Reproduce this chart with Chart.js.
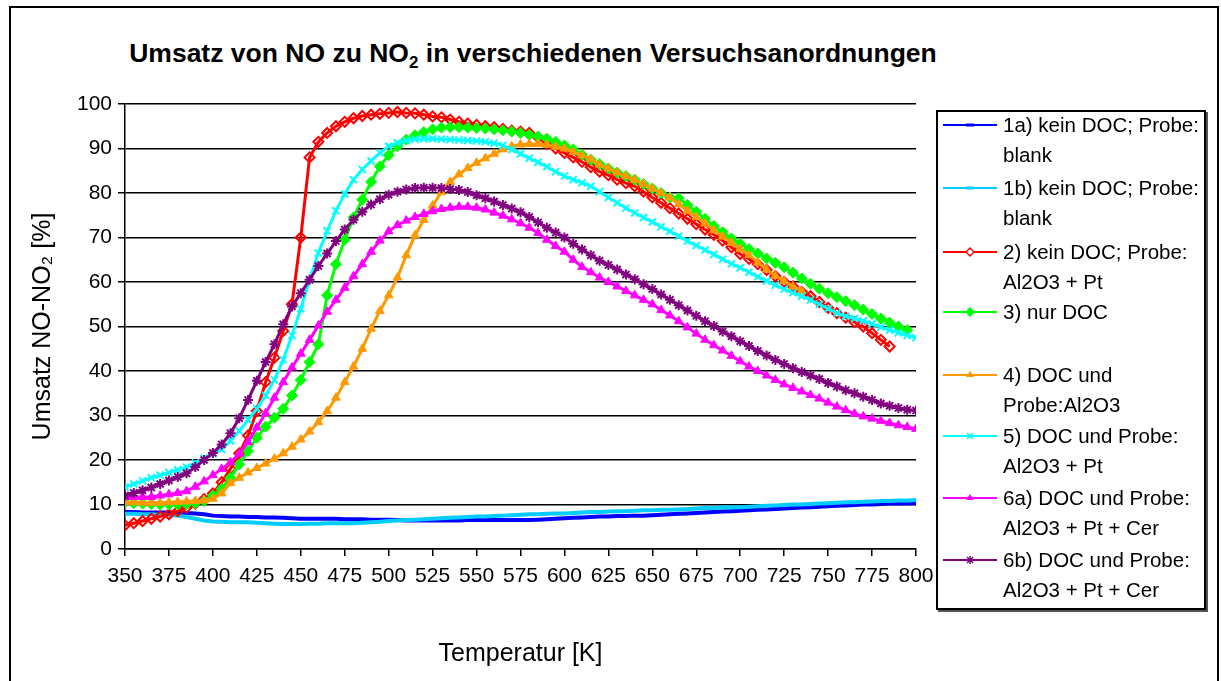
<!DOCTYPE html>
<html>
<head>
<meta charset="utf-8">
<script src="https://cdn.jsdelivr.net/npm/chart.js@4/dist/chart.umd.min.js"></script>
<style>
body{margin:0;background:#fff;font-family:'Liberation Sans',Arial,sans-serif;}
#frame{position:absolute;left:9px;top:6px;width:1206px;height:700px;border:2px solid #000;border-bottom:none;}
#title{position:absolute;left:0;width:1066px;top:38px;text-align:center;font-weight:bold;font-size:26.5px;color:#000;}
#title sub{font-size:17px;}
#chart{position:absolute;left:0;top:0;}
#legend{position:absolute;left:936px;top:110px;width:266px;height:496px;border:2px solid #000;box-shadow:2px 2px 0 #555;}
.item{position:absolute;left:943px;font-size:20.5px;line-height:30px;color:#000;}
.item svg{position:absolute;left:0;top:0;}
.item div{margin-left:60px;white-space:nowrap;}
</style>
</head>
<body>
<div id="frame"></div>
<div id="title">Umsatz von NO zu NO<sub>2</sub> in verschiedenen Versuchsanordnungen</div>
<canvas id="chart" width="1221" height="681"></canvas>
<div id="legend"></div>
<div id="items"></div>
<script>
// Temperatur [K]
var temps=[350,355,360,365,370,375,380,385,390,395,400,405,410,415,420,425,430,435,440,445,
450,455,460,465,470,475,480,485,490,495,500,505,510,515,520,525,530,535,540,545,
550,555,560,565,570,575,580,585,590,595,600,605,610,615,620,625,630,635,640,645,
650,655,660,665,670,675,680,685,690,695,700,705,710,715,720,725,730,735,740,745,
750,755,760,765,770,775,780,785,790,795,800];

// 1a) kein DOC; Probe: blank
var blankA=[8.3,8.3,8.2,8.2,8.2,8.2,8.1,8.1,8.0,7.8,7.5,7.4,7.3,7.3,7.2,7.2,7.1,7.1,7.0,6.9,
6.8,6.8,6.8,6.8,6.8,6.7,6.7,6.7,6.6,6.6,6.6,6.5,6.4,6.4,6.4,6.4,6.4,6.4,6.4,6.5,
6.5,6.5,6.5,6.5,6.5,6.5,6.5,6.6,6.7,6.8,6.9,7.0,7.1,7.2,7.3,7.3,7.4,7.4,7.5,7.5,
7.6,7.7,7.8,7.9,8.0,8.1,8.2,8.3,8.4,8.5,8.6,8.7,8.8,8.9,9.0,9.1,9.2,9.3,9.4,9.5,
9.6,9.7,9.8,9.9,10.0,10.0,10.1,10.2,10.2,10.3,10.3];
// 1b) kein DOC; Probe: blank
var blankB=[7.9,7.9,7.8,7.8,7.7,7.6,7.5,7.2,6.8,6.4,6.2,6.1,6.0,6.0,6.0,5.9,5.8,5.7,5.6,5.6,
5.6,5.7,5.7,5.8,5.8,5.8,5.8,5.9,6.0,6.1,6.3,6.4,6.5,6.6,6.7,6.8,6.9,7.0,7.1,7.2,
7.3,7.3,7.4,7.5,7.6,7.7,7.8,7.8,7.9,8.0,8.0,8.1,8.2,8.3,8.3,8.4,8.5,8.5,8.6,8.7,
8.7,8.8,8.8,8.9,9.0,9.1,9.2,9.2,9.3,9.4,9.4,9.5,9.6,9.7,9.8,9.9,10.0,10.0,10.1,10.2,
10.3,10.4,10.5,10.5,10.6,10.7,10.8,10.8,10.9,10.9,11.0];
// 2) kein DOC; Probe: Al2O3 + Pt (bis 785 K)
var noDocPt=[5.3,5.8,6.3,6.8,7.3,7.8,8.5,9.3,10.2,11.2,12.5,15,18,21.5,25.5,31,37.5,43,49,55,
70,88,91.5,93.5,95,96,96.8,97.3,97.6,97.8,98,98.2,98,97.9,97.6,97.2,97,96.5,96,95.6,
95.3,95,94.8,94.4,94,93.8,93.5,92.5,91,90,89,88,87,85.8,84.8,84,83,82.2,81.5,80.3,
79,77.8,76.6,75.4,74.2,73,71.8,70.6,69.3,67.8,66.3,65.2,64,62.7,61.3,60,59,57.8,56.8,55.5,
54.2,53,52,51,50,48.5,47,45.5];
// 3) nur DOC (bis 795 K)
var docOnly=[10.5,10.3,10.2,10.1,10,10,10,10.1,10.3,10.8,12,13.5,16,19,22,25,27.5,29.5,31.5,34.5,
38,42,46,57,64,69.5,74.5,78.5,82.5,86,88.5,90.5,92,93,93.7,94.3,94.7,94.8,94.8,94.7,
94.6,94.5,94.3,94.1,93.8,93.5,93.1,92.7,92.2,91.5,90.7,89.8,88.6,87.5,86.5,85.5,84.6,83.8,83,82,
81,80,79,78.8,77.3,75.8,74.2,72.6,71.2,69.8,68.6,67.4,66.4,65.3,64.3,63.3,62.1,60.8,59.6,58.5,
57.5,56.6,55.7,54.8,53.8,52.8,51.8,50.9,50,49.2];
// 4) DOC und Probe: Al2O3 (bis 735 K)
var docAl2o3=[10.5,10.5,10.4,10.4,10.4,10.5,10.6,10.7,10.8,10.9,11.3,12.5,14.8,16,17.2,18.2,19.2,20.3,21.5,23,
24.6,26.4,28.5,31,34,37.5,41,45,49.5,53.5,57,61,66,70.5,74,77.2,80.2,82.5,84.2,85.6,
86.8,87.8,88.8,89.8,90.5,90.9,91,91,90.8,90.4,90,89.2,88.5,87.6,86.4,85.5,84.6,83.8,83,82,
81,80,79,77.5,76,74.6,73.2,71.6,70.2,68.8,67.4,66,64.4,62.8,61.4,60.2,59,58];
// 5) DOC und Probe: Al2O3 + Pt
var docPt=[13.9,14.6,15.3,16,16.6,17.2,17.8,18.4,19.3,20.4,21.4,22.4,24.3,26.5,29,31.5,34.5,38,42.5,48,
54,60.5,66.5,71.5,76,79.8,83,85.3,87.2,89,90.5,91.3,91.8,92.1,92.2,92.2,92.1,92,91.9,91.8,
91.7,91.5,91.2,90.7,89.8,88.8,87.8,86.9,85.9,84.8,83.8,83,82.3,81.5,80.3,79,77.8,76.6,75.5,74.5,
73.5,72.4,71.4,70.3,69.2,68.2,67.2,66.2,65.1,64.1,63.2,62.2,61.2,60.2,59.3,58.4,57.6,56.8,56,55,
54,53,52.3,51.8,51.3,50.6,49.9,49.2,48.6,48,47.5];
// 6a) DOC und Probe: Al2O3 + Pt + Cer
var docCerA=[11.7,11.7,11.7,11.7,12,12.3,12.6,13,14,15.2,16.6,18,19.5,21.4,24,27.3,30.5,34,37.5,40.8,
43.9,47,50.2,53.3,56,58.7,61.3,64,66.8,69.3,71.4,72.8,73.8,74.6,75.3,75.9,76.4,76.7,76.9,76.9,
76.7,76.3,75.6,74.9,74.1,73.2,72.2,71,69.5,68.1,66.8,65,63.4,62.2,61,60,59,58,57,56,
55,53.7,52.5,51.2,49.8,48.4,47,45.8,44.6,43.4,42.2,41,40,39,38,37,36.2,35.4,34.6,33.8,
32.9,32,31.2,30.4,29.8,29.3,28.8,28.3,27.8,27.4,27];
// 6b) DOC und Probe: Al2O3 + Pt + Cer
var docCerB=[12,12.6,13.2,13.8,14.6,15.4,16.2,17,18.4,20,21.6,23.5,26,29.4,33.5,37.8,42,46,50.5,54.5,
57.5,60.5,63.6,66.4,69.2,71.8,74,75.8,77.4,78.6,79.6,80.3,80.8,81.1,81.2,81.2,81.1,80.9,80.7,80.2,
79.5,78.8,78.1,77.3,76.5,75.7,74.6,73.4,72.2,71.1,70,68.6,67.3,66,64.8,63.8,62.8,61.7,60.6,59.5,
58.4,57.2,56,54.8,53.6,52.4,51.2,50.1,48.9,47.8,46.7,45.6,44.5,43.5,42.5,41.6,40.6,39.8,39,38.2,
37.3,36.5,35.7,35,34.2,33.5,32.7,32.2,31.7,31.3,31.1];

var labels=[['1a) kein DOC; Probe:','blank'],['1b) kein DOC; Probe:','blank'],['2) kein DOC; Probe:','Al2O3 + Pt'],
['3) nur DOC'],['4) DOC und','Probe:Al2O3'],['5) DOC und Probe:','Al2O3 + Pt'],
['6a) DOC und Probe:','Al2O3 + Pt + Cer'],['6b) DOC und Probe:','Al2O3 + Pt + Cer']];
var series=[blankA,blankB,noDocPt,docOnly,docAl2o3,docPt,docCerA,docCerB];
var colors=['#0000ff','#00ccff','#ff0000','#00ff00','#ff9900','#00ffff','#ff00ff','#800080'];
var styles=['line','line','rectRot','rectRot','triangle','crossRot','triangle','star'];

var FONT="'Liberation Sans', Arial, sans-serif";

var datasets=series.map(function(vals,i){
  var hollow=(i==2);
  return {
    label:labels[i].join(' '),
    data:vals.map(function(v,k){return {x:temps[k],y:v};}),
    borderColor:colors[i],
    backgroundColor:hollow?'rgba(255,255,255,0)':colors[i],
    borderWidth:(i<2)?4:3,
    pointStyle:styles[i],
    pointRadius:(i<2)?0:(i==3?5.5:5),
    pointBorderWidth:(i==5||i==7||i==2)?2:1,
    showLine:true,
    order:8-i
  };
});

new Chart(document.getElementById('chart'),{
  type:'scatter',
  data:{datasets:datasets},
  options:{
    responsive:false,
    animation:false,
    devicePixelRatio:1,
    layout:{padding:{left:0,top:104,right:305,bottom:0}},
    plugins:{legend:{display:false},tooltip:{enabled:false}},
    scales:{
      x:{
        type:'linear',min:350,max:800,
        afterFit:function(s){s.height=132;},
        ticks:{stepSize:25,autoSkip:false,maxRotation:0,color:'#000',padding:8,font:{family:FONT,size:21}},
        grid:{drawOnChartArea:false,drawTicks:true,tickLength:7,color:'#000',lineWidth:1.5},
        border:{color:'#000',width:1.5},
        title:{display:true,text:'Temperatur [K]',color:'#000',font:{family:FONT,size:25},padding:{top:0,bottom:12}}
      },
      y:{
        min:0,max:100,
        afterFit:function(s){s.width=125;},
        ticks:{stepSize:10,color:'#000',padding:6,font:{family:FONT,size:21}},
        grid:{color:'#000',lineWidth:1.5,tickLength:7},
        border:{color:'#000',width:1.5},
        title:{display:true,text:'Umsatz NO-NO\u2082 [%]',color:'#000',font:{family:FONT,size:25},padding:{top:28,bottom:0}}
      }
    }
  }
});

// Legende als HTML
function marker(i){
  var c=colors[i],m='';
  if(i<2) m='<rect x="23" y="'+(13.5)+'" width="8" height="3" fill="'+c+'"/>';
  else if(i==2) m='<path d="M27 11 L31 15 L27 19 L23 15 Z" fill="#fff" stroke="'+c+'" stroke-width="1.4"/>';
  else if(i==3) m='<path d="M27 10 L32 15 L27 20 L22 15 Z" fill="'+c+'"/>';
  else if(i==4||i==6) m='<path d="M27 11 L31 17 L23 17 Z" fill="'+c+'"/>';
  else if(i==5) m='<path d="M24 12 L30 18 M30 12 L24 18" stroke="'+c+'" stroke-width="1.5"/>';
  else m='<path d="M24 12 L30 18 M30 12 L24 18 M27 11 L27 19" stroke="'+c+'" stroke-width="1.5"/>';
  return '<svg width="56" height="30"><line x1="0" y1="15" x2="54" y2="15" stroke="'+c+'" stroke-width="2"/>'+m+'</svg>';
}
var tops=[110,173,237,297,360,421,483,545];
var html='';
labels.forEach(function(l,i){
  html+='<div class="item" style="top:'+tops[i]+'px">'+marker(i)+'<div>'+l.join('<br>')+'</div></div>';
});
document.getElementById('items').innerHTML=html;
</script>
</body>
</html>
